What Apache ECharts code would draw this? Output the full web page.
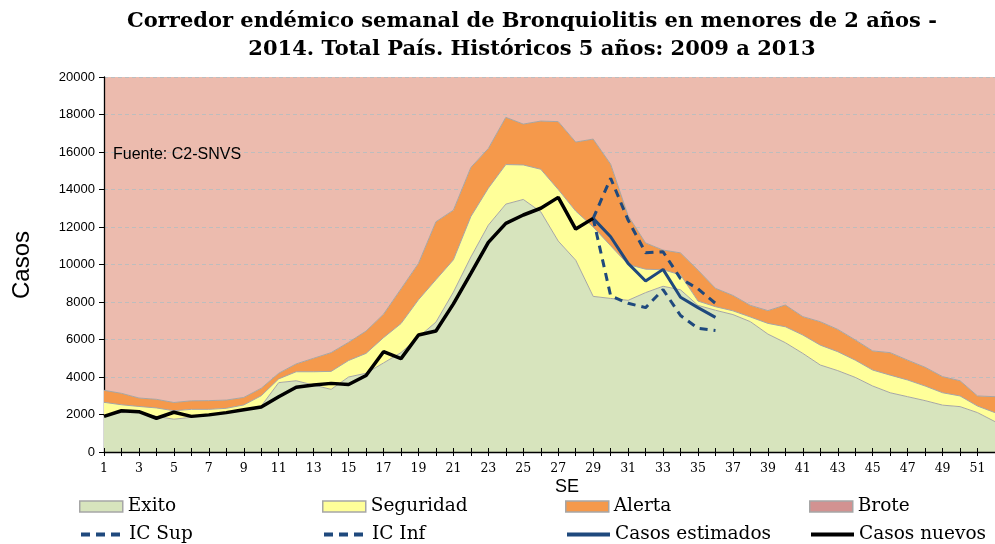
<!DOCTYPE html>
<html>
<head>
<meta charset="utf-8">
<script src="https://cdn.jsdelivr.net/npm/echarts@6/dist/echarts.min.js"></script>
<style>
  html, body { margin: 0; padding: 0; background: #fff; }
  #chart { width: 995px; height: 544px; }
</style>
</head>
<body>
<div id="chart"></div>
<script>
// semanas epidemiológicas
const weeks = Array.from({ length: 52 }, (_, i) => String(i + 1));
const yTicks = [0, 2000, 4000, 6000, 8000, 10000, 12000, 14000, 16000, 18000, 20000];
const yMax = 20000;

// límites superiores de cada zona del corredor
const exitoTop = [
  1950, 2100, 2100, 1900, 1750, 1850, 1950, 2100, 2250, 2450,
  3700, 3800, 3570, 3340, 4000, 4200, 4750, 5300, 6130, 6930,
  8530, 10400, 12100, 13220, 13470, 12810, 11250, 10230, 8300, 8190,
  8090, 8500, 8840, 8650, 7820, 7560, 7330, 6950, 6290, 5830,
  5260, 4640, 4340, 3980, 3520, 3160, 2950, 2740, 2500, 2420,
  2100, 1620
];
const seguridadTop = [
  2650, 2520, 2430, 2350, 2200, 2275, 2275, 2330, 2510, 3000,
  3900, 4280, 4280, 4300, 4880, 5260, 6100, 6850, 8120, 9190,
  10250, 12560, 14070, 15330, 15310, 15080, 14000, 12850, 12000, 11000,
  10000, 9750, 9720, 9450, 8050, 7750, 7530, 7200, 6860, 6680,
  6240, 5700, 5350, 4900, 4370, 4100, 3840, 3520, 3160, 2990,
  2450, 2100
];
const alertaTop = [
  3290, 3130, 2880, 2810, 2640, 2730, 2740, 2770, 2910, 3400,
  4200, 4700, 5000, 5300, 5850, 6450, 7350, 8700, 10060, 12280,
  12900, 15180, 16190, 17850, 17490, 17650, 17620, 16530, 16690, 15350,
  12600, 11150, 10770, 10620, 9700, 8730, 8350, 7820, 7540, 7840,
  7220, 6950, 6540, 5980, 5390, 5300, 4900, 4520, 4020, 3800,
  2990, 2950
];

// casos 2014
const casosNuevos = [
  1900, 2200, 2150, 1800, 2120, 1900, 1980, 2100, 2250, 2400,
  2950, 3450, 3570, 3660, 3600, 4080, 5350, 4980, 6240, 6450,
  7900, 9530, 11180, 12190, 12640, 13000, 13580, 11890, 12460
];
// desde la semana 29
const startEst = 29;
const casosEstimados = [12460, 11480, 10060, 9120, 9740, 8250, 7700, 7180];
const icSup = [12460, 14600, 12370, 10630, 10680, 9250, 8700, 7930];
const icInf = [12460, 8330, 7930, 7700, 8660, 7280, 6600, 6480];

const C_EXITO = "#D7E4BD";
const C_SEG = "#FFFF99";
const C_ALERTA = "#F5994B";
const C_BROTE = "#ECBBAE";
const C_BORDE = "#A6A6A6";
const C_AZUL = "#1F497D";

const serif = "'DejaVu Serif', serif";
const sans = "'Liberation Sans', Arial, sans-serif";

function fromWeek(start, vals) {
  const out = new Array(start - 1).fill(null);
  return out.concat(vals);
}

// bandas apiladas
const bandSeg = seguridadTop.map((v, i) => v - exitoTop[i]);
const bandAlerta = alertaTop.map((v, i) => v - seguridadTop[i]);
const bandBrote = alertaTop.map((v) => yMax - v);

const chart = echarts.init(document.getElementById("chart"), null, { renderer: "canvas" });

const areaSerie = (name, data, color, z, lineW) => ({
  name,
  type: "line",
  stack: "corredor",
  data,
  symbol: "none",
  z,
  lineStyle: { color: C_BORDE, width: lineW },
  itemStyle: { color },
  areaStyle: { color, opacity: 1 },
  emphasis: { disabled: true },
});

const lineSerie = (name, data, color, width, type) => ({
  name,
  type: "line",
  data,
  symbol: "none",
  z: 6,
  connectNulls: false,
  lineStyle: { color, width, type, cap: "butt" },
  itemStyle: { color },
  emphasis: { disabled: true },
});

const legendText = { fontFamily: serif, fontSize: 18.5, color: "#000" };
const mkLegend = (name, left, top, extra) => ({
  left,
  top,
  padding: 0,
  itemWidth: 43,
  itemHeight: 11,
  itemGap: 0,
  textStyle: legendText,
  selectedMode: false,
  data: [Object.assign({ name }, extra)],
});
const rectIcon = (color) => ({
  icon: "rect",
  itemStyle: { color, borderColor: C_BORDE, borderWidth: 1.5 },
});
const lineIcon = (dash) => ({
  itemStyle: { opacity: 0 },
  lineStyle: { width: 4, type: dash },
});

chart.setOption({
  animation: false,
  grid: { left: 104, right: -7, top: 77, bottom: 92 },
  xAxis: [
    {
      type: "category",
      data: weeks,
      boundaryGap: false,
      z: 10,
      axisLine: { lineStyle: { color: "#000", width: 1.3 } },
      axisTick: { show: true, interval: 0, length: 4, lineStyle: { color: "#000" } },
      axisLabel: {
        interval: 1,
        fontFamily: serif,
        fontSize: 12.5,
        color: "#000",
        margin: 10,
      },
      splitLine: { show: false },
    },
    {
      type: "category",
      data: weeks,
      boundaryGap: false,
      position: "bottom",
      z: 10,
      axisLine: { show: false },
      axisTick: { show: true, inside: true, interval: 0, length: 4, lineStyle: { color: "#000" } },
      axisLabel: { show: false },
      splitLine: { show: false },
    },
  ],
  yAxis: {
    type: "value",
    min: yTicks[0],
    max: yTicks[yTicks.length - 1],
    interval: 2000,
    z: 2,
    axisLine: { show: true, lineStyle: { color: "#000", width: 1.3 } },
    axisTick: { show: true, length: 5, lineStyle: { color: "#000" } },
    axisLabel: {
      fontFamily: sans,
      fontSize: 13,
      color: "#000",
      margin: 9,
      formatter: (v) => String(v),
    },
    splitLine: { lineStyle: { color: "#BDBDBD", type: [4, 3], width: 1 } },
  },
  legend: [
    mkLegend("Exito", 79, 497, rectIcon(C_EXITO)),
    mkLegend("Seguridad", 322, 497, rectIcon(C_SEG)),
    mkLegend("Alerta", 565, 497, rectIcon(C_ALERTA)),
    mkLegend("Brote", 809, 497, rectIcon("#D29291")),
    mkLegend("IC Sup", 79, 525, lineIcon([9, 6])),
    mkLegend("IC Inf", 322, 525, lineIcon([9, 6])),
    mkLegend("Casos estimados", 565, 525, lineIcon("solid")),
    mkLegend("Casos nuevos", 809, 525, lineIcon("solid")),
  ],
  series: [
    areaSerie("Exito", exitoTop, C_EXITO, 3, 1),
    areaSerie("Seguridad", bandSeg, C_SEG, 3, 1),
    areaSerie("Alerta", bandAlerta, C_ALERTA, 3, 1),
    areaSerie("Brote", bandBrote, C_BROTE, 1, 0),
    lineSerie("IC Sup", fromWeek(startEst, icSup), C_AZUL, 3, [8, 6]),
    lineSerie("IC Inf", fromWeek(startEst, icInf), C_AZUL, 3, [8, 6]),
    lineSerie("Casos estimados", fromWeek(startEst, casosEstimados), C_AZUL, 3, "solid"),
    lineSerie("Casos nuevos", casosNuevos, "#000", 3.5, "solid"),
  ],
  graphic: [
    {
      type: "text",
      x: 532,
      y: 8,
      style: {
        text: "Corredor endémico semanal de Bronquiolitis en menores de 2 años -\n2014. Total País. Históricos 5 años: 2009 a 2013",
        font: "bold 21px 'DejaVu Serif', serif",
        fill: "#000",
        align: "center",
        verticalAlign: "top",
        lineHeight: 28,
      },
    },
    {
      type: "text",
      x: 22,
      y: 265,
      rotation: Math.PI / 2,
      style: {
        text: "Casos",
        font: "24px 'Liberation Sans', sans-serif",
        fill: "#000",
        align: "center",
        verticalAlign: "middle",
      },
    },
    {
      type: "text",
      x: 567,
      y: 487,
      style: {
        text: "SE",
        font: "18px 'Liberation Sans', sans-serif",
        fill: "#000",
        align: "center",
        verticalAlign: "middle",
      },
    },
    {
      type: "text",
      x: 113,
      y: 155,
      z: 20,
      style: {
        text: "Fuente: C2-SNVS",
        font: "16px 'Liberation Sans', sans-serif",
        fill: "#000",
        align: "left",
        verticalAlign: "middle",
      },
    },
  ],
});
</script>
</body>
</html>
